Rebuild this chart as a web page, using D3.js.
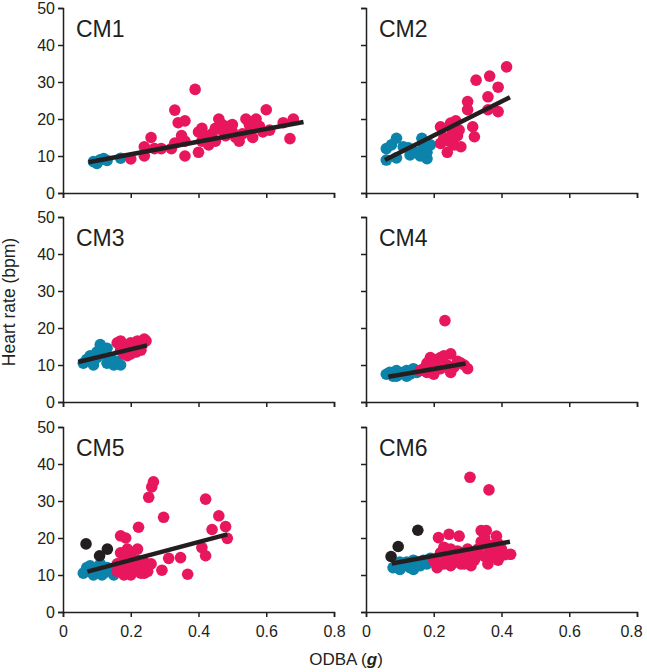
<!DOCTYPE html>
<html>
<head>
<meta charset="utf-8">
<script src="https://cdn.jsdelivr.net/npm/d3@7"></script>
<style>
  html, body { margin: 0; padding: 0; background: #fff; }
  svg { display: block; font-family: "Liberation Sans", Arial, sans-serif; }
  .axis path, .axis line { stroke: #231f20; stroke-width: 1.5px; }
  .axis text { fill: #231f20; font-size: 16px; }
</style>
</head>
<body>
<div id="chart"></div>
<script>
// ═══════════════════════════════════════════════════════════
// DATA — ODBA (g) vs heart rate (bpm), [x, y]
// ═══════════════════════════════════════════════════════════
const panelNames = ['CM1', 'CM2', 'CM3', 'CM4', 'CM5', 'CM6'];
const xTicks = [0, 0.2, 0.4, 0.6, 0.8];
const yTicks = [0, 10, 20, 30, 40, 50];

const cm1Blue = [[0.09, 8.5], [0.10, 8], [0.11, 9], [0.12, 9.3], [0.13, 8.8], [0.17, 9.4]];
const cm1Pink = [
  [0.20, 9.2], [0.24, 12.5], [0.24, 10], [0.26, 15], [0.27, 12], [0.29, 12], [0.32, 12],
  [0.33, 22.4], [0.33, 13.5], [0.34, 19], [0.35, 15.5], [0.36, 19.5], [0.36, 14], [0.36, 10],
  [0.39, 28], [0.40, 16.5], [0.40, 11], [0.41, 14], [0.41, 17.5], [0.43, 13], [0.44, 16],
  [0.45, 17.5], [0.45, 14], [0.46, 20], [0.47, 17], [0.47, 18.5], [0.48, 15.5], [0.49, 18],
  [0.50, 16.5], [0.50, 18.5], [0.51, 15], [0.52, 14], [0.53, 16], [0.54, 20], [0.55, 16.5],
  [0.56, 15], [0.57, 20], [0.58, 18], [0.60, 22.5], [0.61, 17], [0.65, 19], [0.67, 14.7], [0.68, 20],
  [0.42, 15.5], [0.44, 14.5], [0.48, 17], [0.55, 18.5], [0.59, 16.5]
];
const cm1Dark = [];
const cm1Fit = [[0.075, 8.3], [0.71, 19.2]];

const cm2Blue = [
  [0.06, 8.9], [0.06, 12], [0.075, 13], [0.09, 14.8], [0.09, 9.5], [0.11, 12.5], [0.125, 12.2],
  [0.13, 10.3], [0.15, 11], [0.16, 10], [0.165, 14.8], [0.17, 12.5], [0.18, 9.3], [0.18, 11], [0.19, 13]
];
const cm2Pink = [
  [0.22, 17.9], [0.22, 13.4], [0.23, 15], [0.24, 11], [0.245, 14], [0.25, 18.9], [0.255, 16.3],
  [0.26, 13], [0.265, 19.5], [0.27, 15.5], [0.275, 17], [0.28, 12.5], [0.30, 24.7], [0.30, 22.5],
  [0.315, 17.9], [0.32, 15.2], [0.325, 30.5], [0.36, 26], [0.36, 22.5], [0.365, 31.6],
  [0.39, 28.6], [0.39, 22], [0.415, 34.1]
];
const cm2Dark = [];
const cm2Fit = [[0.056, 8.9], [0.425, 25.9]];

const cm3Blue = [
  [0.06, 10.5], [0.07, 11.5], [0.08, 12.5], [0.09, 10], [0.10, 12], [0.10, 13.5], [0.11, 15.5],
  [0.12, 13], [0.13, 14.5], [0.13, 10.5], [0.14, 12], [0.15, 10], [0.16, 11], [0.17, 10]
];
const cm3Pink = [
  [0.16, 16], [0.17, 14], [0.17, 16.5], [0.18, 13], [0.18, 15.5], [0.19, 15], [0.19, 12.5],
  [0.20, 16], [0.20, 13], [0.21, 14.5], [0.215, 13.5], [0.22, 16.5], [0.23, 15], [0.23, 14],
  [0.24, 17], [0.245, 16.5]
];
const cm3Dark = [];
const cm3Fit = [[0.045, 10.8], [0.248, 15.3]];

const cm4Blue = [
  [0.06, 7.5], [0.07, 8], [0.08, 7], [0.09, 8.5], [0.09, 7], [0.10, 7.5], [0.11, 8], [0.12, 7],
  [0.12, 8.5], [0.13, 7.5], [0.14, 9], [0.15, 8]
];
const cm4Pink = [
  [0.16, 8.5], [0.17, 9], [0.18, 8], [0.18, 10.5], [0.19, 12], [0.20, 10], [0.20, 7.5],
  [0.21, 11.5], [0.22, 9], [0.22, 12], [0.23, 12.5], [0.233, 22], [0.24, 10], [0.25, 13],
  [0.25, 8], [0.26, 9.5], [0.27, 11], [0.28, 10.5], [0.29, 10], [0.30, 9]
];
const cm4Dark = [];
const cm4Fit = [[0.066, 6.8], [0.294, 10.4]];

const cm5Blue = [
  [0.06, 10.5], [0.07, 12], [0.08, 11], [0.08, 12.5], [0.09, 10], [0.10, 11.5], [0.11, 13],
  [0.115, 10], [0.12, 10.5], [0.13, 12], [0.14, 11], [0.15, 10]
];
const cm5Pink = [
  [0.16, 13], [0.16, 11], [0.17, 11], [0.17, 16], [0.17, 20.6], [0.18, 15], [0.18, 10],
  [0.185, 20], [0.19, 12.5], [0.19, 17], [0.20, 10], [0.20, 16], [0.20, 14.5], [0.21, 13],
  [0.21, 11], [0.22, 17], [0.22, 14], [0.223, 22.9], [0.23, 12], [0.23, 10.5], [0.24, 13.5],
  [0.24, 10.5], [0.25, 11], [0.253, 31], [0.26, 13], [0.262, 33.8], [0.267, 35.2], [0.292, 11.3],
  [0.297, 25.6], [0.312, 14.5], [0.347, 14.7], [0.368, 10.2], [0.41, 17.4], [0.421, 30.5],
  [0.421, 15.2], [0.44, 22.3], [0.46, 26], [0.48, 23.1], [0.485, 19.9]
];
const cm5Dark = [[0.068, 18.4], [0.108, 15.2], [0.131, 17]];
const cm5Fit = [[0.072, 10.9], [0.485, 21]];

const cm6Blue = [
  [0.08, 12], [0.09, 13], [0.10, 11.5], [0.10, 13.5], [0.11, 12.5], [0.12, 13.5], [0.13, 12],
  [0.14, 11.5], [0.14, 14], [0.15, 13], [0.16, 12.5], [0.17, 14], [0.18, 13], [0.19, 14.5]
];
const cm6Pink = [
  [0.20, 14], [0.21, 12], [0.214, 20.1], [0.22, 16], [0.22, 13], [0.23, 13], [0.24, 15],
  [0.245, 21], [0.25, 17], [0.25, 12.5], [0.26, 13.5], [0.27, 14.5], [0.275, 20.5], [0.28, 16],
  [0.28, 13], [0.29, 13], [0.30, 15], [0.30, 17], [0.307, 36.4], [0.31, 12.5], [0.32, 14],
  [0.33, 17], [0.34, 19], [0.34, 22], [0.35, 15], [0.35, 20], [0.355, 22], [0.36, 13],
  [0.36, 17.5], [0.363, 33], [0.37, 18], [0.38, 16], [0.385, 20.5], [0.39, 14], [0.40, 17],
  [0.41, 15.5], [0.427, 15.6], [0.23, 17.5], [0.27, 16.5], [0.32, 16], [0.37, 15], [0.39, 18.5]
];
const cm6Dark = [[0.074, 15], [0.095, 17.7], [0.153, 22.1]];
const cm6Fit = [[0.076, 13.1], [0.425, 19]];

const panelBlue = [cm1Blue, cm2Blue, cm3Blue, cm4Blue, cm5Blue, cm6Blue];
const panelPink = [cm1Pink, cm2Pink, cm3Pink, cm4Pink, cm5Pink, cm6Pink];
const panelDark = [cm1Dark, cm2Dark, cm3Dark, cm4Dark, cm5Dark, cm6Dark];
const panelFit  = [cm1Fit, cm2Fit, cm3Fit, cm4Fit, cm5Fit, cm6Fit];

// ═══════════════════════════════════════════════════════════
// LAYOUT
// ═══════════════════════════════════════════════════════════
const width  = 647;
const height = 672;
const colX   = [63, 366];
const rowY   = [8, 217, 427];
const plotW  = 271;
const plotH  = 185;

const colors = { blue: '#0b83ab', pink: '#e8175d', dark: '#231f20' };

const svg = d3.select('#chart')
  .append('svg')
  .attr('width', width)
  .attr('height', height);

function drawPanel(i) {
  const col = i % 2;
  const row = Math.floor(i / 2);
  const g = svg.append('g').attr('transform', `translate(${colX[col]},${rowY[row]})`);

  const x = d3.scaleLinear().domain([0, 0.8]).range([0, plotW]);
  const y = d3.scaleLinear().domain([0, 50]).range([plotH, 0]);

  const xAxis = d3.axisBottom(x).tickValues(xTicks).tickSize(5).tickSizeOuter(5)
    .tickFormat(row === 2 ? d3.format('') : () => '');
  const yAxis = d3.axisLeft(y).tickValues(yTicks).tickSize(5).tickSizeOuter(5)
    .tickFormat(col === 0 ? d3.format('') : () => '');

  const xg = g.append('g').attr('class', 'axis')
    .attr('transform', `translate(0,${plotH})`)
    .call(xAxis);
  xg.selectAll('text').attr('dy', '1.05em');
  // last label of the right column sits against the page edge
  if (col === 1) {
    xg.selectAll('.tick text').filter(d => d === 0.8).attr('dx', -6);
  }

  const yg = g.append('g').attr('class', 'axis').call(yAxis);
  yg.selectAll('text').attr('x', -8).attr('dy', '0.36em');

  const layers = [
    [panelBlue[i], colors.blue],
    [panelPink[i], colors.pink],
    [panelDark[i], colors.dark]
  ];
  for (const [pts, fill] of layers) {
    g.append('g').selectAll('circle')
      .data(pts)
      .join('circle')
      .attr('cx', d => x(d[0]))
      .attr('cy', d => y(d[1]))
      .attr('r', 5.8)
      .attr('fill', fill);
  }

  const line = d3.line().x(d => x(d[0])).y(d => y(d[1]));
  g.append('path')
    .attr('d', line(panelFit[i]))
    .attr('fill', 'none')
    .attr('stroke', colors.dark)
    .attr('stroke-width', 4.5);

  g.append('text')
    .attr('x', 13)
    .attr('y', 29)
    .attr('font-size', 23)
    .attr('fill', colors.dark)
    .text(panelNames[i]);
}

panelNames.forEach((_, i) => drawPanel(i));

// axis titles
svg.append('text')
  .attr('transform', 'translate(15,302) rotate(-90)')
  .attr('text-anchor', 'middle')
  .attr('font-size', 17.5)
  .attr('fill', colors.dark)
  .text('Heart rate (bpm)');

const xTitle = svg.append('text')
  .attr('x', 346)
  .attr('y', 665)
  .attr('text-anchor', 'middle')
  .attr('font-size', 17)
  .attr('fill', colors.dark);
xTitle.append('tspan').text('ODBA (');
xTitle.append('tspan').attr('font-weight', 'bold').attr('font-style', 'italic').text('g');
xTitle.append('tspan').text(')');
</script>
</body>
</html>
